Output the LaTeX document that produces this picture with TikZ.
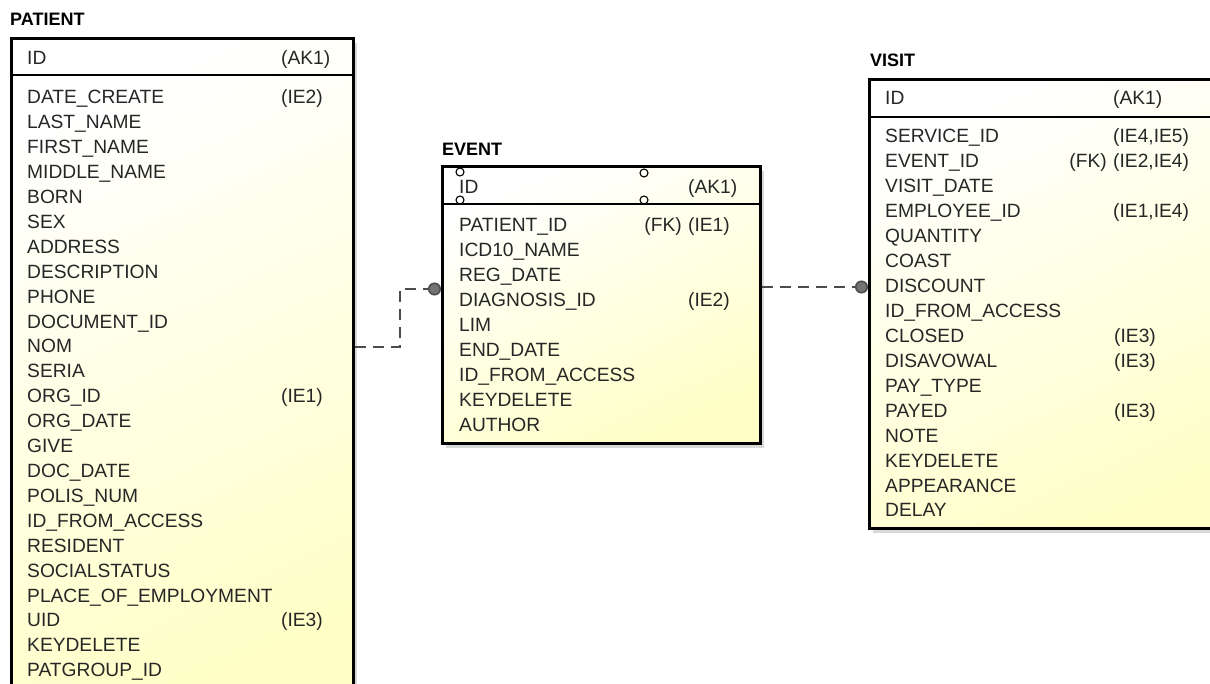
\documentclass[tikz,border=0pt]{standalone}
\usepackage{fontspec}
\setmainfont{Liberation Sans}
\usetikzlibrary{arrows.meta,positioning,shadows}

\begin{document}
\begin{tikzpicture}[
x=1pt, y=-1pt,
table/.style={rectangle, draw, line width=2.8pt, anchor=north west, inner sep=0pt,
  top color=white, bottom color=yellow!22, shading angle=25,
  drop shadow={shadow xshift=4pt, shadow yshift=-5pt, fill=black!30, opacity=0.5}},
title/.style={anchor=base west, inner sep=0pt, font=\fontsize{18}{20}\selectfont\bfseries},
field/.style={anchor=base west, inner sep=0pt, text=black!85, font=\fontsize{19.2}{25}\selectfont},
keyref/.style={field},
fkref/.style={field, anchor=base east},
divider/.style={line width=1.5pt},
relation/.style={dash pattern=on 11pt off 7pt, line width=1.5pt, black!70,
  -{Circle[length=13pt, fill=black!55]}},
handle/.style={circle, draw, line width=1.1pt, inner sep=0pt, minimum size=8pt}
]
\useasboundingbox (0,0) rectangle (1210,684);
\clip (0,0) rectangle (1210,684);
\fill[white] (0,0) rectangle (1210,684);

% PATIENT
\node[table, minimum width=342pt, minimum height=680pt] (patient) at (10,37) {};
\node[title] (patient-title) at (10,26) {PATIENT};
\draw[divider] (patient.west |- 0,75) -- (patient.east |- 0,75);
\node[field] (patient-id) at (27,65) {ID};
\node[keyref] (patient-ak) at (281,65) {(AK1)};
\foreach \f [count=\i from 0] in {DATE\_CREATE, LAST\_NAME, FIRST\_NAME, MIDDLE\_NAME,
  BORN, SEX, ADDRESS, DESCRIPTION, PHONE, DOCUMENT\_ID, NOM, SERIA, ORG\_ID,
  ORG\_DATE, GIVE, DOC\_DATE, POLIS\_NUM, ID\_FROM\_ACCESS, RESIDENT, SOCIALSTATUS,
  PLACE\_OF\_EMPLOYMENT, UID, KEYDELETE, PATGROUP\_ID}
  \node[field] (patient-f\i) at (27,{104+24.9*\i}) {\f};
\node[keyref] (patient-k0) at (281,0 |- patient-f0.base) {(IE2)};
\node[keyref] (patient-k12) at (281,0 |- patient-f12.base) {(IE1)};
\node[keyref] (patient-k21) at (281,0 |- patient-f21.base) {(IE3)};

% EVENT
\node[table, minimum width=318pt, minimum height=277pt] (event) at (441,165) {};
\node[title] (event-title) at (442,156) {EVENT};
\draw[divider] (event.west |- 0,204) -- (event.east |- 0,204);
\node[field] (event-id) at (459,194) {ID};
\node[keyref] (event-ak) at (688,194) {(AK1)};
\node[handle] (event-h1) at (460,172) {};
\node[handle] (event-h2) at (460,200) {};
\node[handle] (event-h3) at (644,173) {};
\node[handle] (event-h4) at (644,200) {};
\foreach \f [count=\i from 0] in {PATIENT\_ID, ICD10\_NAME, REG\_DATE, DIAGNOSIS\_ID,
  LIM, END\_DATE, ID\_FROM\_ACCESS, KEYDELETE, AUTHOR}
  \node[field] (event-f\i) at (459,{232+24.9*\i}) {\f};
\node[fkref] (event-fk0) at (682,0 |- event-f0.base) {(FK)};
\node[keyref] (event-k0) at (688,0 |- event-f0.base) {(IE1)};
\node[keyref] (event-k3) at (688,0 |- event-f3.base) {(IE2)};

% VISIT
\node[table, minimum width=400pt, minimum height=449pt] (visit) at (868,78) {};
\node[title] (visit-title) at (870,67) {VISIT};
\draw[divider] (visit.west |- 0,117) -- (visit.east |- 0,117);
\node[field] (visit-id) at (885,105) {ID};
\node[keyref] (visit-ak) at (1113,105) {(AK1)};
\foreach \f [count=\i from 0] in {SERVICE\_ID, EVENT\_ID, VISIT\_DATE, EMPLOYEE\_ID,
  QUANTITY, COAST, DISCOUNT, ID\_FROM\_ACCESS, CLOSED, DISAVOWAL, PAY\_TYPE, PAYED,
  NOTE, KEYDELETE, APPEARANCE, DELAY}
  \node[field] (visit-f\i) at (885,{143+24.93*\i}) {\f};
\node[keyref] (visit-k0) at (1113,0 |- visit-f0.base) {(IE4,IE5)};
\node[fkref] (visit-fk1) at (1107,0 |- visit-f1.base) {(FK)};
\node[keyref] (visit-k1) at (1113,0 |- visit-f1.base) {(IE2,IE4)};
\node[keyref] (visit-k3) at (1113,0 |- visit-f3.base) {(IE1,IE4)};
\node[keyref] (visit-k8) at (1114,0 |- visit-f8.base) {(IE3)};
\node[keyref] (visit-k9) at (1114,0 |- visit-f9.base) {(IE3)};
\node[keyref] (visit-k11) at (1114,0 |- visit-f11.base) {(IE3)};

% relations
\coordinate (pe-bend) at (400,347);
\coordinate (pe-end) at (400,289);
\draw[relation] (patient.east |- pe-bend) -- (pe-bend) -- (pe-end) -- (event.west |- pe-end);
\coordinate (ev-join) at (800,287);
\draw[relation] (event.east |- ev-join) -- (visit.west |- ev-join);

\end{tikzpicture}
\end{document}
